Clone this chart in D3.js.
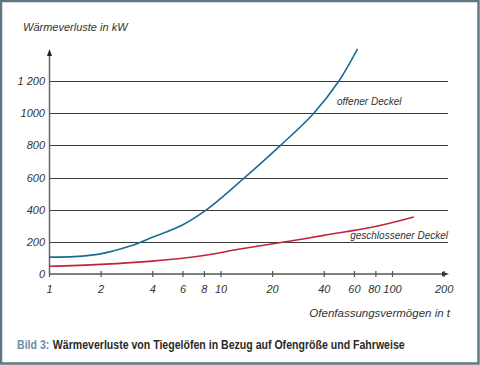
<!DOCTYPE html>
<html>
<head>
<meta charset="utf-8">
<script src="https://cdn.jsdelivr.net/npm/d3@7"></script>
<style>
  body { margin: 0; background: #fff; }
  svg { display: block; font-family: "Liberation Sans", Arial, sans-serif; }
</style>
</head>
<body>
<div id="chart"></div>
<script>
// Wärmeverluste von Tiegelöfen
const xTicks = [1, 2, 4, 6, 8, 10, 20, 40, 60, 80, 100, 200]
const yTicks = [0, 200, 400, 600, 800, 1000, 1200]
const yTickLabels = ["0", "200", "400", "600", "800", "1000", "1 200"]

const offenX = [1, 1.4, 2, 3, 4, 6, 8.3, 13, 22.4, 35, 49, 63]
const offenY = [105, 108, 125, 175, 228, 305, 400, 574, 800, 1000, 1200, 1400]

const geschlX = [1, 2, 4, 8, 13, 24, 40, 80, 134]
const geschlY = [48, 60, 80, 115, 155, 200, 240, 295, 354]

const W = 480, H = 365

const svg = d3.select("#chart").append("svg")
  .attr("width", W)
  .attr("height", H)

// frame
svg.append("rect")
  .attr("x", 1).attr("y", 1)
  .attr("width", W - 2.5).attr("height", H - 2.5)
  .attr("fill", "#fff")
  .attr("stroke", "#627682")
  .attr("stroke-width", 2.5)

const x = d3.scaleLog().domain([1, 100]).range([49, 392])
const y = d3.scaleLinear().domain([0, 1200]).range([274, 81])

// gridlines
svg.append("g")
  .selectAll("line")
  .data(yTicks.slice(1))
  .join("line")
  .attr("x1", 50)
  .attr("x2", 448)
  .attr("y1", d => Math.round(y(d)) + 0.5)
  .attr("y2", d => Math.round(y(d)) + 0.5)
  .attr("stroke", "#3a3a3a")
  .attr("stroke-width", 1.2)

// y tick labels
svg.append("g")
  .selectAll("text")
  .data(yTicks)
  .join("text")
  .attr("x", 45)
  .attr("y", d => y(d) + 4)
  .attr("text-anchor", "end")
  .attr("font-size", "11px")
  .attr("font-style", "italic")
  .attr("fill", "#333")
  .text((d, i) => yTickLabels[i])

// x axis
const xAxis = d3.axisBottom(x)
  .tickValues(xTicks)
  .tickSize(3)
  .tickPadding(8)
  .tickFormat(d3.format("d"))

const gx = svg.append("g")
  .attr("transform", `translate(0, ${y(0)})`)
  .call(xAxis)
gx.select(".domain").remove()
gx.selectAll(".tick line")
  .attr("y1", -3)
  .attr("stroke", "#555")
  .attr("stroke-width", 1.2)
gx.selectAll(".tick text")
  .attr("font-family", "Liberation Sans, Arial, sans-serif")
  .attr("font-size", "11px")
  .attr("font-style", "italic")
  .attr("fill", "#333")
// 80 sits a touch left of the pure log position in the original
gx.selectAll(".tick text").filter(d => d === 80).attr("dx", "-1.5")

gx.append("line")
  .attr("x1", 49).attr("x2", 444)
  .attr("stroke", "#555").attr("stroke-width", 1.5)
gx.append("path")
  .attr("d", "M449,0 L442,-2.5 L442,2.5 Z")
  .attr("fill", "#333")

// y axis
svg.append("line")
  .attr("x1", 49.5).attr("x2", 49.5)
  .attr("y1", y(0)).attr("y2", 54)
  .attr("stroke", "#666").attr("stroke-width", 1.5)
svg.append("path")
  .attr("d", "M49.5,49 L47,56 L52,56 Z")
  .attr("fill", "#222")

// curves
const line = d3.line()
  .x(d => x(d[0]))
  .y(d => y(d[1]))
  .curve(d3.curveCatmullRom.alpha(0.5))

svg.append("path")
  .datum(offenX.map((v, i) => [v, offenY[i]]))
  .attr("d", line)
  .attr("fill", "none")
  .attr("stroke", "#1b6c92")
  .attr("stroke-width", 1.6)

svg.append("path")
  .datum(geschlX.map((v, i) => [v, geschlY[i]]))
  .attr("d", line)
  .attr("fill", "none")
  .attr("stroke", "#c2243c")
  .attr("stroke-width", 1.6)

// curve labels
svg.append("text")
  .attr("x", 337).attr("y", 105)
  .attr("font-size", "10px").attr("font-style", "italic")
  .attr("fill", "#333")
  .text("offener Deckel")

svg.append("text")
  .attr("x", 448).attr("y", 239)
  .attr("text-anchor", "end")
  .attr("font-size", "10px").attr("font-style", "italic")
  .attr("fill", "#333")
  .text("geschlossener Deckel")

// axis titles
svg.append("text")
  .attr("x", 23).attr("y", 31)
  .attr("font-size", "11px").attr("font-style", "italic")
  .attr("fill", "#333")
  .text("Wärmeverluste in kW")

svg.append("text")
  .attr("x", 450).attr("y", 317)
  .attr("text-anchor", "end")
  .attr("font-size", "11.5px").attr("font-style", "italic")
  .attr("fill", "#333")
  .text("Ofenfassungsvermögen in t")

// caption: condensed look by squeezing horizontally
const capG = svg.append("g")
const capA = capG.append("text")
  .attr("x", 0).attr("y", 0)
  .attr("font-size", "12px").attr("font-weight", "bold")
  .attr("fill", "#6f8ea5")
  .text("Bild 3:")
const aW = capA.node().getComputedTextLength()
const capB = capG.append("text")
  .attr("x", aW + 4).attr("y", 0)
  .attr("font-size", "12px").attr("font-weight", "bold")
  .attr("fill", "#2a2a2a")
  .text("Wärmeverluste von Tiegelöfen in Bezug auf Ofengröße und Fahrweise")
const totalW = aW + 4 + capB.node().getComputedTextLength()
capG.attr("transform", `translate(17, 349) scale(${388 / totalW}, 1)`)
</script>
</body>
</html>
